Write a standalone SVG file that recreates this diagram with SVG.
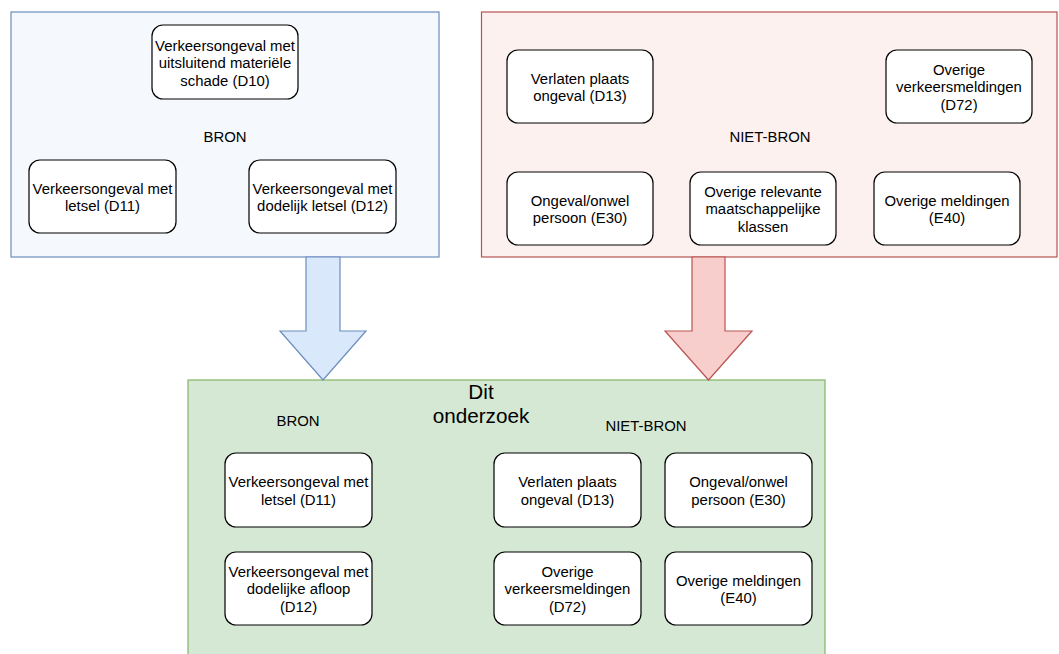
<svg xmlns="http://www.w3.org/2000/svg" width="1059" height="654" viewBox="0 0 1059 654">
<style>
.node{fill:#ffffff;stroke:#000000;stroke-width:1.2}
.t{font-family:"Liberation Sans",Arial,Helvetica,sans-serif;font-size:14.9px;fill:#000000;text-anchor:middle}
.big{font-family:"Liberation Sans",Arial,Helvetica,sans-serif;font-size:20.7px;fill:#000000;text-anchor:middle}
</style>
<rect width="1059" height="654" fill="#ffffff"/>
<g id="container-bron">
<rect x="11" y="12" width="428" height="245" fill="#f5f8fd" stroke="#6c8ebf" stroke-width="1.2"/>
<text class="t" x="225" y="142">BRON</text>
</g>
<g id="container-niet-bron">
<rect x="481.5" y="12" width="575.5" height="245" fill="#fdf1f0" stroke="#b85450" stroke-width="1.2"/>
<text class="t" x="770" y="142">NIET-BRON</text>
</g>
<g id="container-onderzoek">
<rect x="188" y="380" width="637" height="290" fill="#d5e8d4" stroke="#82b366" stroke-width="1.2"/>
<text class="big" x="481" y="398.5">Dit</text>
<text class="big" x="481" y="423">onderzoek</text>
<text class="t" x="298" y="426">BRON</text>
<text class="t" x="646" y="431">NIET-BRON</text>
</g>
<g id="connectors">
<polygon points="306,257 340,257 340,331 366,331 323,380 280,331 306,331" fill="#dae8fc" stroke="#6c8ebf" stroke-width="1.2"/>
<polygon points="692,257 725,257 725,331 752,331 708.5,380 665,331 692,331" fill="#f8cecc" stroke="#b85450" stroke-width="1.2"/>
</g>
<g id="top-d10">
<rect class="node" x="152" y="25" width="146" height="74" rx="11"/>
<text class="t" x="225" y="50.5"><tspan x="225">Verkeersongeval met</tspan><tspan x="225" dy="17.5">uitsluitend materiële</tspan><tspan x="225" dy="17.5">schade (D10)</tspan></text>
</g>
<g id="top-d11">
<rect class="node" x="29" y="160" width="147" height="73" rx="11"/>
<text class="t" x="102.5" y="193.5"><tspan x="102.5">Verkeersongeval met</tspan><tspan x="102.5" dy="17.5">letsel (D11)</tspan></text>
</g>
<g id="top-d12">
<rect class="node" x="249" y="160" width="147" height="73" rx="11"/>
<text class="t" x="322.5" y="193.5"><tspan x="322.5">Verkeersongeval met</tspan><tspan x="322.5" dy="17.5">dodelijk letsel (D12)</tspan></text>
</g>
<g id="top-d13">
<rect class="node" x="507" y="50" width="146" height="73" rx="11"/>
<text class="t" x="580" y="83.5"><tspan x="580">Verlaten plaats</tspan><tspan x="580" dy="17.5">ongeval (D13)</tspan></text>
</g>
<g id="top-d72">
<rect class="node" x="886" y="50" width="146" height="73" rx="11"/>
<text class="t" x="959" y="74.7"><tspan x="959">Overige</tspan><tspan x="959" dy="17.5">verkeersmeldingen</tspan><tspan x="959" dy="17.5">(D72)</tspan></text>
</g>
<g id="top-e30">
<rect class="node" x="507" y="172" width="146" height="73" rx="11"/>
<text class="t" x="580" y="205.5"><tspan x="580">Ongeval/onwel</tspan><tspan x="580" dy="17.5">persoon (E30)</tspan></text>
</g>
<g id="top-overig-relevant">
<rect class="node" x="690" y="172" width="146" height="73" rx="11"/>
<text class="t" x="763" y="196.7"><tspan x="763">Overige relevante</tspan><tspan x="763" dy="17.5">maatschappelijke</tspan><tspan x="763" dy="17.5">klassen</tspan></text>
</g>
<g id="top-e40">
<rect class="node" x="874" y="172" width="146" height="73" rx="11"/>
<text class="t" x="947" y="205.5"><tspan x="947">Overige meldingen</tspan><tspan x="947" dy="17.5">(E40)</tspan></text>
</g>
<g id="bottom-d11">
<rect class="node" x="225" y="453" width="147" height="74" rx="11"/>
<text class="t" x="298.5" y="487"><tspan x="298.5">Verkeersongeval met</tspan><tspan x="298.5" dy="17.5">letsel (D11)</tspan></text>
</g>
<g id="bottom-d12">
<rect class="node" x="225" y="552" width="147" height="73" rx="11"/>
<text class="t" x="298.5" y="576.7"><tspan x="298.5">Verkeersongeval met</tspan><tspan x="298.5" dy="17.5">dodelijke afloop</tspan><tspan x="298.5" dy="17.5">(D12)</tspan></text>
</g>
<g id="bottom-d13">
<rect class="node" x="494" y="453" width="147" height="74" rx="11"/>
<text class="t" x="567.5" y="487"><tspan x="567.5">Verlaten plaats</tspan><tspan x="567.5" dy="17.5">ongeval (D13)</tspan></text>
</g>
<g id="bottom-e30">
<rect class="node" x="665" y="453" width="147" height="74" rx="11"/>
<text class="t" x="738.5" y="487"><tspan x="738.5">Ongeval/onwel</tspan><tspan x="738.5" dy="17.5">persoon (E30)</tspan></text>
</g>
<g id="bottom-d72">
<rect class="node" x="494" y="552" width="147" height="73" rx="11"/>
<text class="t" x="567.5" y="576.7"><tspan x="567.5">Overige</tspan><tspan x="567.5" dy="17.5">verkeersmeldingen</tspan><tspan x="567.5" dy="17.5">(D72)</tspan></text>
</g>
<g id="bottom-e40">
<rect class="node" x="665" y="552" width="147" height="73" rx="11"/>
<text class="t" x="738.5" y="585.5"><tspan x="738.5">Overige meldingen</tspan><tspan x="738.5" dy="17.5">(E40)</tspan></text>
</g>
</svg>
